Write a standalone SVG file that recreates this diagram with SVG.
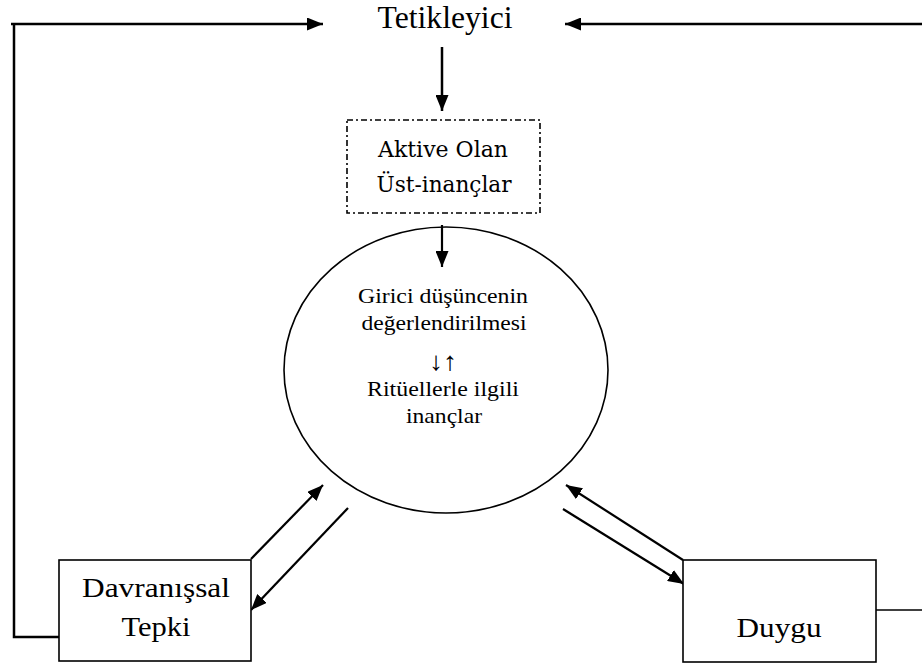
<svg xmlns="http://www.w3.org/2000/svg" width="922" height="666" viewBox="0 0 922 666">
<style>
text{fill:#000;text-anchor:middle}
.ln{stroke:#000;stroke-width:2.5;fill:none}
.ar{stroke:#000;stroke-width:2.2;fill:none}
.bx{stroke:#000;stroke-width:1.6;fill:#fff}
</style>
<defs>
<marker id="ah" viewBox="0 0 16 13" refX="16" refY="6.5" markerWidth="16" markerHeight="13" markerUnits="userSpaceOnUse" orient="auto">
<path d="M0,0 L16,6.5 L0,13 Z" fill="#000"/>
</marker>
</defs>
<rect width="922" height="666" fill="#fff"/>
<g id="connectors">
<polyline class="ln" points="59,637 14,637 14,24 11,24 323,24" marker-end="url(#ah)"/>
<line class="ln" x1="922" y1="24" x2="565" y2="24" marker-end="url(#ah)"/>
<line class="ln" x1="442" y1="47" x2="442" y2="111" marker-end="url(#ah)"/>
<line class="ar" x1="442" y1="225" x2="442" y2="267" marker-end="url(#ah)"/>
<line class="ar" x1="251" y1="559" x2="323" y2="485" marker-end="url(#ah)"/>
<line class="ar" x1="348" y1="508" x2="251" y2="610" marker-end="url(#ah)"/>
<line class="ar" x1="683" y1="560" x2="566" y2="485" marker-end="url(#ah)"/>
<line class="ar" x1="563" y1="509" x2="684" y2="584" marker-end="url(#ah)"/>
<line x1="876" y1="610" x2="922" y2="610" stroke="#000" stroke-width="1.6"/>
</g>
<g id="tetikleyici" font-family="Liberation Serif">
<text x="445" y="28" font-size="31" textLength="135" lengthAdjust="spacingAndGlyphs">Tetikleyici</text>
</g>
<g id="ustinanclar" font-family="DejaVu Serif">
<rect x="347" y="120" width="193" height="93" fill="none" stroke="#000" stroke-width="1.6" stroke-dasharray="6,3,2,3"/>
<text x="443" y="157" font-size="23" textLength="130" lengthAdjust="spacingAndGlyphs">Aktive Olan</text>
<text x="444" y="192" font-size="23" textLength="135" lengthAdjust="spacingAndGlyphs">Üst-inançlar</text>
</g>
<g id="degerlendirme" font-family="Liberation Serif">
<ellipse cx="446" cy="370" rx="162" ry="143" fill="none" stroke="#000" stroke-width="1.6"/>
<text x="443" y="303" font-size="21" textLength="170" lengthAdjust="spacingAndGlyphs">Girici düşüncenin</text>
<text x="444" y="330" font-size="21" textLength="165" lengthAdjust="spacingAndGlyphs">değerlendirilmesi</text>
<text x="443" y="370" font-size="26" textLength="28" lengthAdjust="spacingAndGlyphs">↓↑</text>
<text x="443" y="396" font-size="21" textLength="152" lengthAdjust="spacingAndGlyphs">Ritüellerle ilgili</text>
<text x="444" y="423" font-size="21" textLength="76" lengthAdjust="spacingAndGlyphs">inançlar</text>
</g>
<g id="davranissal" font-family="Liberation Serif">
<rect class="bx" x="59" y="560" width="192" height="101"/>
<text x="156" y="597" font-size="28" textLength="148" lengthAdjust="spacingAndGlyphs">Davranışsal</text>
<text x="156" y="636" font-size="28" textLength="69" lengthAdjust="spacingAndGlyphs">Tepki</text>
</g>
<g id="duygu" font-family="Liberation Serif">
<rect class="bx" x="683" y="560" width="193" height="102"/>
<text x="779" y="637" font-size="28" textLength="85" lengthAdjust="spacingAndGlyphs">Duygu</text>
</g>
</svg>
